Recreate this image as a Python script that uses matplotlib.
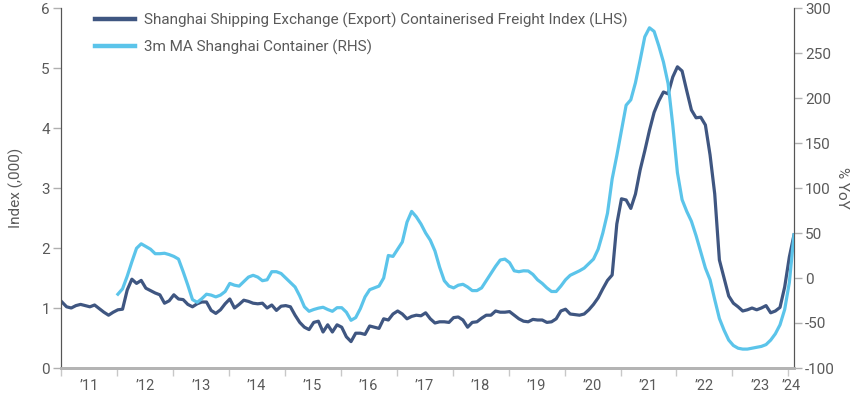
import numpy as np
import matplotlib.pyplot as plt
from matplotlib.lines import Line2D

plt.rcParams['font.family'] = ['Roboto', 'DejaVu Sans']
plt.rcParams['axes.unicode_minus'] = False

# monthly data, Jan 2011 .. Feb 2024
freight_index = [
    1.10, 1.02, 1.00, 1.04, 1.06, 1.04, 1.02, 1.05, 0.99, 0.93, 0.88, 0.93,   # 2011
    0.97, 0.98, 1.30, 1.48, 1.41, 1.46, 1.33, 1.29, 1.25, 1.22, 1.08, 1.12,   # 2012
    1.22, 1.15, 1.14, 1.06, 1.02, 1.07, 1.10, 1.10, 0.96, 0.91, 0.97, 1.07,   # 2013
    1.15, 1.00, 1.06, 1.13, 1.11, 1.08, 1.07, 1.08, 1.00, 1.05, 0.96, 1.03,   # 2014
    1.04, 1.02, 0.88, 0.76, 0.68, 0.64, 0.76, 0.78, 0.60, 0.72, 0.60, 0.72,   # 2015
    0.68, 0.52, 0.44, 0.58, 0.58, 0.56, 0.70, 0.68, 0.66, 0.82, 0.80, 0.90,   # 2016
    0.95, 0.90, 0.82, 0.86, 0.88, 0.87, 0.92, 0.82, 0.75, 0.77, 0.77, 0.76,   # 2017
    0.84, 0.85, 0.80, 0.68, 0.76, 0.77, 0.83, 0.88, 0.88, 0.95, 0.93, 0.93,   # 2018
    0.94, 0.88, 0.82, 0.78, 0.77, 0.81, 0.80, 0.80, 0.76, 0.77, 0.82, 0.95,   # 2019
    0.98, 0.90, 0.89, 0.88, 0.90, 0.97, 1.06, 1.17, 1.32, 1.46, 1.55, 2.40,   # 2020
    2.82, 2.80, 2.66, 2.90, 3.30, 3.62, 3.96, 4.26, 4.45, 4.60, 4.57, 4.85,   # 2021
    5.02, 4.95, 4.62, 4.30, 4.17, 4.18, 4.05, 3.55, 2.90, 1.80, 1.50, 1.20,   # 2022
    1.08, 1.02, 0.95, 0.97, 1.00, 0.97, 1.00, 1.04, 0.92, 0.95, 1.01, 1.35,   # 2023
    1.85, 2.22,                                                               # 2024
]

# 3m MA % YoY, Jan 2012 .. Feb 2024
yoy_3m = [
    -18, -12, 2, 18, 33, 38, 35, 32, 27, 27, 27.5, 26,                        # 2012
    24, 21, 7, -8, -24, -27, -23, -18, -19, -21, -19, -15,                    # 2013
    -6, -8, -9, -4, 1, 3, 1, -3, -2, 7, 7, 5,                                 # 2014
    0, -5, -10, -20, -32, -37, -35, -33.5, -32.5, -35, -37, -33,              # 2015
    -33, -38, -47, -44, -34, -21, -13, -11, -9, 0, 25, 24,                    # 2016
    32, 40, 62, 74, 68, 60, 50, 42, 30, 12, -3, -9,                           # 2017
    -11, -8, -7, -10, -14, -14, -11, -3, 5, 13, 20, 21,                       # 2018
    17, 8, 7, 8, 7.8, 4, -2, -6, -11, -15, -15, -9,                           # 2019
    -2, 3, 5.5, 8, 11, 16, 21, 32, 50, 72, 110, 136,                          # 2020
    164, 192, 198, 217, 242, 268, 278, 274, 258, 240, 216, 170,               # 2021
    117, 87, 74, 63, 47, 29, 11, -2, -24, -45, -58, -69,                      # 2022
    -75, -78, -79, -79, -78, -77, -76, -74, -69, -62, -52, -35,               # 2023
    -5, 48,                                                                   # 2024
]

year_labels = ["’11", "’12", "’13", "’14", "’15", "’16", "’17", "’18", "’19",
               "’20", "’21", "’22", "’23", "’24"]
left_ticks = [0, 1, 2, 3, 4, 5, 6]
right_ticks = [-100, -50, 0, 50, 100, 150, 200, 250, 300]

dark = '#3f5681'
light = '#5bc4ea'
txt = '#5a5a5a'

# month positions in fractional years
x_idx = 2011 + (np.arange(len(freight_index)) + 0.2) / 12
x_yoy = x_idx[len(freight_index) - len(yoy_3m):]

fig = plt.figure(figsize=(8.55, 3.97), dpi=100)
ax = fig.add_axes([61 / 855, 1 - 368 / 397, 733 / 855, 360 / 397])
ax2 = ax.twinx()

ax.plot(x_idx, freight_index, color=dark, lw=2.3, solid_joinstyle='round')
ax2.plot(x_yoy, yoy_3m, color=light, lw=2.3, solid_joinstyle='round')

ax.set_xlim(2011, 2024.1)
ax.set_ylim(0, 6)
ax2.set_ylim(-100, 300)
ax.set_yticks(left_ticks)
ax2.set_yticks(right_ticks)
ax2.set_yticklabels([str(v) for v in right_ticks])

# year boundaries as ticks, labels in between
ax.set_xticks(np.arange(2011, 2025))
ax.set_xticklabels([])
label_pos = list(np.arange(2011, 2024) + 0.5) + [2024.05]
ax.set_xticks(label_pos, minor=True)
ax.set_xticklabels(year_labels, minor=True)
ax.tick_params(axis='x', which='minor', length=0, pad=8, labelsize=10.5, labelcolor=txt)
ax.tick_params(axis='x', which='major', length=6, width=1, color='#c8c8c8')

ax.tick_params(axis='y', length=6, width=1, color='#b0b0b0', labelsize=11,
               labelcolor=txt, pad=2)
ax2.tick_params(axis='y', length=6, width=1, color='#b0b0b0', labelsize=11,
                labelcolor=txt, pad=2)

for a in (ax, ax2):
    a.spines['top'].set_visible(False)
    a.spines['left'].set_color('#555555')
    a.spines['right'].set_color('#555555')
    a.spines['bottom'].set_color('#b4b4b4')
    a.spines['bottom'].set_linewidth(2)

ax.set_ylabel('Index (,000)', fontsize=11, color=txt, labelpad=12)
ax2.set_ylabel('% YoY', fontsize=11, color=txt, rotation=270, labelpad=10)

handles = [Line2D([], [], color=dark, lw=3.2),
           Line2D([], [], color=light, lw=3.2)]
names = ['Shanghai Shipping Exchange (Export) Containerised Freight Index (LHS)',
         '3m MA Shanghai Container (RHS)']
ax2.legend(handles, names, loc='upper left', bbox_to_anchor=(0.028, 1.025),
           frameon=False, fontsize=11, labelcolor=txt, handlelength=2.6,
           handletextpad=0.6, labelspacing=0.75)

fig.savefig('out.png', dpi=100)
